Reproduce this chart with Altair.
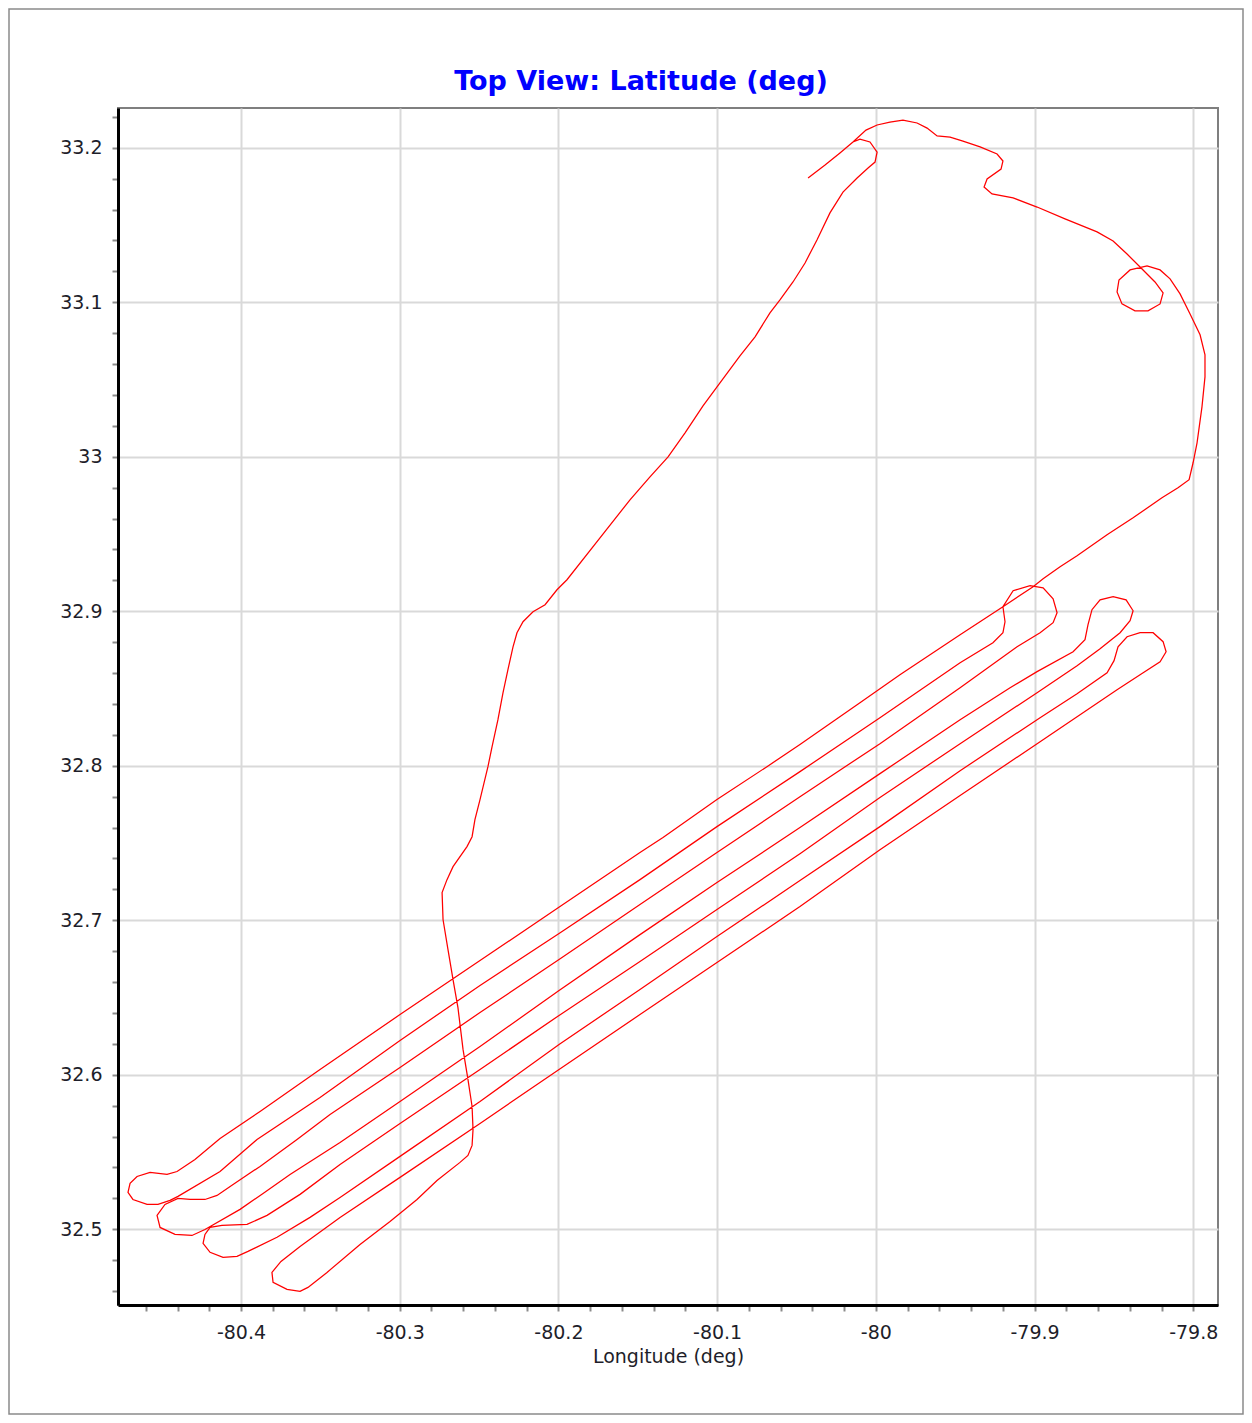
import altair as alt
import pandas as pd

# ---- flight track (deg) ----
outbound_lon = [-80.0427, -80.0320, -80.0226, -80.0144, -80.0062, -79.9992, -79.9911, -79.9829, -79.9740, -79.9677,
                -79.9614, -79.9532, -79.9451, -79.9343, -79.9236, -79.9199, -79.9211, -79.9299, -79.9318, -79.9268,
                -79.9135, -79.8984, -79.8808, -79.8606, -79.8505, -79.8417, -79.8335, -79.8241, -79.8190, -79.8209,
                -79.8285, -79.8367, -79.8449, -79.8480, -79.8468, -79.8398, -79.8291, -79.8209, -79.8146, -79.8083,
                -79.8020, -79.7957, -79.7926, -79.7926, -79.7945, -79.7976, -79.8001, -79.8026, -79.8096, -79.8197,
                -79.8379, -79.8543, -79.8732, -79.8839, -79.8946, -79.9009]
outbound_lat = [33.1804, 33.1888, 33.1966, 33.2037, 33.2114, 33.2147, 33.2166, 33.2179, 33.2160, 33.2127,
                33.2076, 33.2069, 33.2043, 33.2005, 33.1959, 33.1914, 33.1862, 33.1798, 33.1746, 33.1701,
                33.1675, 33.1616, 33.1539, 33.1455, 33.1396, 33.1312, 33.1228, 33.1131, 33.1060, 33.0989,
                33.0944, 33.0944, 33.0989, 33.1067, 33.1144, 33.1209, 33.1235, 33.1209, 33.1151, 33.1054,
                33.0924, 33.0789, 33.0659, 33.0517, 33.0323, 33.0090, 32.9961, 32.9851, 32.9799, 32.9734,
                32.9605, 32.9495, 32.9359, 32.9288, 32.9210, 32.9159]

survey_lon = [
    -79.9199, -79.9469, -79.9848, -80.0100, -80.0478, -80.0686, -80.1001, -80.1341, -80.1486, -80.1990,
    -80.2494, -80.2998, -80.3502, -80.3880, -80.4132, -80.4290, -80.4403,
    -80.4466, -80.4573, -80.4655, -80.4699, -80.4712, -80.4681, -80.4592, -80.4523, -80.4447, -80.4397,
    -80.4132, -80.3899, -80.3502, -80.2998, -80.2494, -80.1996, -80.1486, -80.1001, -80.0478, -79.9974,
    -79.9469, -79.9262,
    -79.9199, -79.9186, -79.9199, -79.9135, -79.9028, -79.8946, -79.8883, -79.8858, -79.8883, -79.8965,
    -79.9110, -79.9469, -79.9974, -80.0478, -80.1001, -80.1486, -80.1996, -80.2494, -80.2998, -80.3439,
    -80.3647, -80.3880, -80.4050, -80.4151, -80.4227, -80.4321, -80.4397,
    -80.4479, -80.4529, -80.4510, -80.4416, -80.4309, -80.4227,
    -80.4006, -80.3861, -80.3691, -80.3376, -80.2998, -80.2494, -80.1996, -80.1486, -80.1001, -80.0478,
    -79.9974, -79.9469, -79.9154, -79.8984, -79.8757,
    -79.8682, -79.8663, -79.8638, -79.8587, -79.8505, -79.8423, -79.8379, -79.8398, -79.8461, -79.8587,
    -79.8732, -79.8984, -79.9469, -79.9974, -80.0478, -80.1001, -80.1486, -80.1996, -80.2494, -80.2998,
    -80.3376, -80.3628, -80.3836, -80.3962, -80.4120, -80.4195,
    -80.4227, -80.4239, -80.4195, -80.4113, -80.4025, -80.3956,
    -80.3773, -80.3565, -80.3376, -80.2998, -80.2494, -80.1996, -80.1486, -80.1001, -80.0478, -79.9974,
    -79.9469, -79.8965, -79.8732, -79.8543,
    -79.8499, -79.8474, -79.8417, -79.8335, -79.8253, -79.8190, -79.8171, -79.8209, -79.8335,
    -79.8480, -79.8965, -79.9469, -79.9974, -80.0478, -80.1001, -80.1486, -80.1996, -80.2494, -80.2998,
    -80.3376, -80.3628, -80.3748,
    -80.3805, -80.3798, -80.3710, -80.3628, -80.3578,
    -80.3458, -80.3250, -80.3061, -80.2891, -80.2765, -80.2620]
survey_lat = [
    32.9029, 32.8848, 32.8589, 32.8408, 32.8137, 32.7994, 32.7781, 32.7535, 32.7438, 32.7089,
    32.6739, 32.6390, 32.6034, 32.5763, 32.5588, 32.5452, 32.5374,
    32.5355, 32.5368, 32.5342, 32.5297, 32.5239, 32.5193, 32.5161, 32.5161, 32.5187, 32.5213,
    32.5374, 32.5581, 32.5853, 32.6222, 32.6578, 32.6914, 32.7263, 32.7606, 32.7962, 32.8311,
    32.8667, 32.8796,
    32.8861, 32.8932, 32.9029, 32.9133, 32.9165, 32.9152, 32.9081, 32.8990, 32.8926, 32.8861,
    32.8770, 32.8505, 32.8143, 32.7800, 32.7438, 32.7102, 32.6746, 32.6403, 32.6047, 32.5743,
    32.5581, 32.5407, 32.5290, 32.5219, 32.5193, 32.5193, 32.5200,
    32.5161, 32.5090, 32.5012, 32.4967, 32.4960, 32.4999,
    32.5129, 32.5232, 32.5355, 32.5562, 32.5827, 32.6183, 32.6545, 32.6907, 32.7244, 32.7600,
    32.7949, 32.8298, 32.8505, 32.8609, 32.8738,
    32.8816, 32.8913, 32.9010, 32.9074, 32.9094, 32.9074, 32.9003, 32.8939, 32.8861, 32.8757,
    32.8647, 32.8473, 32.8143, 32.7794, 32.7431, 32.7069, 32.6733, 32.6384, 32.6034, 32.5685,
    32.5420, 32.5226, 32.5090, 32.5032, 32.5025, 32.5012,
    32.4967, 32.4909, 32.4851, 32.4818, 32.4825, 32.4857,
    32.4948, 32.5077, 32.5206, 32.5472, 32.5827, 32.6196, 32.6552, 32.6895, 32.7257, 32.7606,
    32.7968, 32.8311, 32.8466, 32.8602,
    32.8680, 32.8770, 32.8835, 32.8861, 32.8861, 32.8803, 32.8738, 32.8673, 32.8589,
    32.8492, 32.8156, 32.7807, 32.7457, 32.7089, 32.6726, 32.6390, 32.6034, 32.5685, 32.5336,
    32.5077, 32.4889, 32.4792,
    32.4721, 32.4657, 32.4611, 32.4598, 32.4624,
    32.4721, 32.4902, 32.5051, 32.5193, 32.5316, 32.5433]

return_lon = [-80.2570, -80.2544, -80.2538, -80.2544, -80.2570, -80.2601, -80.2633, -80.2664, -80.2696, -80.2727,
              -80.2733, -80.2702, -80.2664, -80.2576, -80.2544, -80.2526, -80.2494, -80.2444, -80.2418, -80.2381,
              -80.2349, -80.2318, -80.2286, -80.2261, -80.2223, -80.2160, -80.2084, -80.2009, -80.1946, -80.1738,
              -80.1549, -80.1423, -80.1309, -80.1202, -80.1089, -80.0982, -80.0856, -80.0761, -80.0667, -80.0604,
              -80.0522, -80.0446, -80.0371, -80.0289, -80.0207, -80.0118, -80.0049, -80.0005, -79.9992, -80.0037,
              -80.0100, -80.0144, -80.0226, -80.0320, -80.0427]
return_lat = [32.5478, 32.5543, 32.5646, 32.5795, 32.5970, 32.6164, 32.6435, 32.6616, 32.6811, 32.7005,
              32.7179, 32.7263, 32.7347, 32.7477, 32.7541, 32.7651, 32.7781, 32.7994, 32.8124, 32.8298,
              32.8473, 32.8622, 32.8770, 32.8861, 32.8932, 32.8997, 32.9042, 32.9139, 32.9204, 32.9475,
              32.9721, 32.9870, 32.9999, 33.0155, 33.0329, 33.0478, 33.0653, 33.0776, 33.0931, 33.1015,
              33.1131, 33.1254, 33.1403, 33.1578, 33.1713, 33.1804, 33.1869, 33.1907, 33.1972, 33.2037,
              33.2056, 33.2037, 33.1966, 33.1888, 33.1804]

# ---- axes ----
x_ticks = [-80.46, -80.44, -80.42, -80.40, -80.38, -80.36, -80.34, -80.32, -80.30, -80.28, -80.26, -80.24,
           -80.22, -80.20, -80.18, -80.16, -80.14, -80.12, -80.10, -80.08, -80.06, -80.04, -80.02, -80.00,
           -79.98, -79.96, -79.94, -79.92, -79.90, -79.88, -79.86, -79.84, -79.82, -79.80]
y_ticks = [32.46, 32.48, 32.50, 32.52, 32.54, 32.56, 32.58, 32.60, 32.62, 32.64, 32.66, 32.68, 32.70,
           32.72, 32.74, 32.76, 32.78, 32.80, 32.82, 32.84, 32.86, 32.88, 32.90, 32.92, 32.94, 32.96,
           32.98, 33.00, 33.02, 33.04, 33.06, 33.08, 33.10, 33.12, 33.14, 33.16, 33.18, 33.20, 33.22]
x_domain = [-80.4775, -79.7844]
y_domain = [32.451, 33.2257]
chart_title = "Top View: Latitude (deg)"
x_title = "Longitude (deg)"

lon = outbound_lon + survey_lon + return_lon
lat = outbound_lat + survey_lat + return_lat
track = pd.DataFrame({"lon": lon, "lat": lat, "seq": list(range(len(lon)))})
single = pd.DataFrame({"k": [0]})

MAJOR = "abs(datum.value * 10 - round(datum.value * 10)) < 0.001"
LABEL = MAJOR + " ? toString(datum.value) : ''"
TEXT = "#1e1e2a"


def make_axis(values, pad, **kw):
    return alt.Axis(
        values=values,
        grid=True,
        gridColor="#d9d9d9",
        gridWidth=2,
        gridOpacity={"condition": {"test": MAJOR, "value": 1}, "value": 0},
        labelExpr=LABEL,
        labelFont="DejaVu Sans",
        labelFontSize=19,
        labelColor=TEXT,
        labelOverlap=False,
        labelFlush=False,
        labelPadding=pad,
        tickColor="#8c8c8c",
        tickSize=6,
        tickWidth=2,
        domainColor="#000000",
        domainWidth=3,
        **kw,
    )


x_axis = make_axis(x_ticks, 12, titleFont="DejaVu Sans", titleFontSize=19, titleFontWeight="normal",
                   titleColor=TEXT, titlePadding=5)
y_axis = make_axis(y_ticks, 10)

line = alt.Chart(track).mark_line(color="#ff0000", strokeWidth=1.25).encode(
    x=alt.X("lon:Q", scale=alt.Scale(domain=x_domain, nice=False, zero=False), axis=x_axis,
            title=x_title),
    y=alt.Y("lat:Q", scale=alt.Scale(domain=y_domain, nice=False, zero=False), axis=y_axis, title=None),
    order="seq:Q",
)

# outer window frame
frame = alt.Chart(single).mark_rect(
    fill="transparent", stroke="#8a8a8a", strokeWidth=1.5
).encode(x=alt.value(-109), x2=alt.value(1125), y=alt.value(-99), y2=alt.value(1306))

# chart title (blue, bold) above the plot
title = alt.Chart(single).mark_text(
    text=chart_title, font="DejaVu Sans", fontSize=27, fontWeight="bold", color="#0000ff",
    align="center", baseline="alphabetic",
).encode(x=alt.value(523), y=alt.value(-18))

chart = alt.layer(frame, line, title).properties(
    width=1100,
    height=1197,
    autosize=alt.AutoSizeParams(type="none"),
    padding={"left": 110, "top": 100, "right": 26, "bottom": 110},
).configure_view(stroke="#7f7f7f", strokeWidth=2)

chart.save("out.html", embed_options={"renderer": "svg", "actions": False})
